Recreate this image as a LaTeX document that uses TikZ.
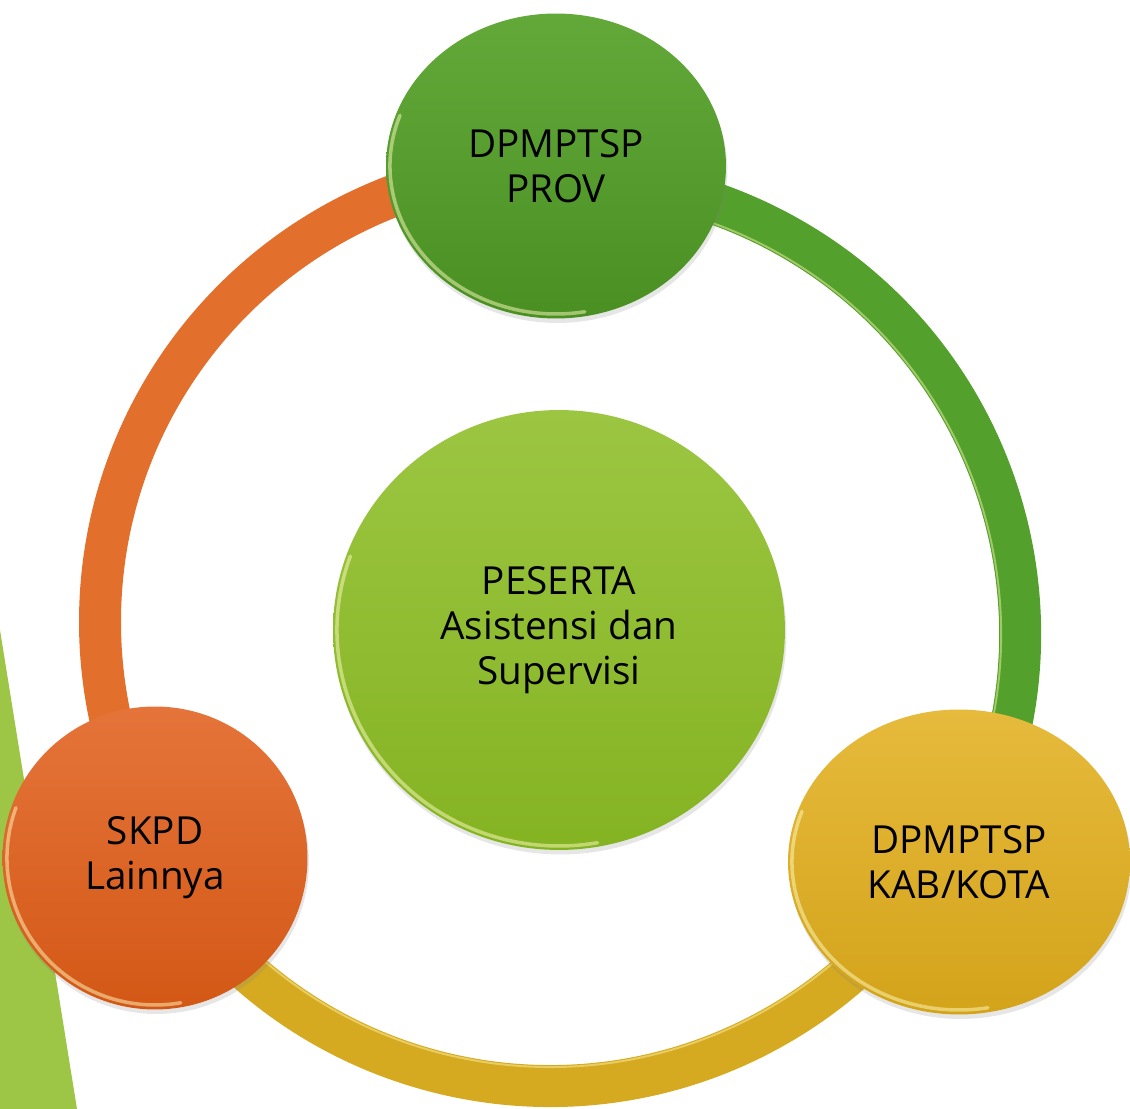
\documentclass[tikz,border=0pt]{standalone}
\usepackage{fontspec}
\setmainfont{Open Sans}
\usepackage{tikz}
\usetikzlibrary{shapes.geometric,shadows,backgrounds}
\definecolor{provtop}{HTML}{62A93A}
\definecolor{provbot}{HTML}{4A8F22}
\definecolor{hubtop}{HTML}{9CC642}
\definecolor{hubbot}{HTML}{84B322}
\definecolor{skpdtop}{HTML}{E5743A}
\definecolor{skpdbot}{HTML}{D35816}
\definecolor{kabtop}{HTML}{E6BA3C}
\definecolor{kabbot}{HTML}{D3A31A}
\definecolor{ringgreen}{HTML}{54A02C}
\definecolor{ringorange}{HTML}{E2702C}
\definecolor{ringgold}{HTML}{D6AA20}
\definecolor{leaf}{HTML}{9DC646}
\tikzset{
    disc/.style={ellipse, inner sep=0pt, text=black,
        drop shadow={opacity=0.2, shadow xshift=0.03cm, shadow yshift=-0.09cm}},
    hub/.style={disc, minimum width=9.04cm, minimum height=8.8cm, top color=hubtop, bottom color=hubbot},
    prov/.style={disc, minimum width=6.8cm, minimum height=6.1cm, top color=provtop, bottom color=provbot},
    skpd/.style={disc, minimum width=6.1cm, minimum height=6.06cm, top color=skpdtop, bottom color=skpdbot},
    kab/.style={disc, minimum width=6.84cm, minimum height=6.1cm, top color=kabtop, bottom color=kabbot},
    ring/.style={line width=0.84cm},
    shine/.style={draw=white!70!yellow, draw opacity=0.45, line width=1.1pt},
    rim/.style={draw=white!75!yellow, draw opacity=0.5, line width=2pt, line cap=round}
}

\begin{document}
\begin{tikzpicture}
  [
    x                       = 0.02cm,
    y                       = 0.02cm,
    every node/.style       = {font=\fontsize{22}{25.6}\selectfont, align=center},
  ]
  \useasboundingbox (0,0) rectangle (1130,1109);
  % side band
  \fill [leaf] (0,479) -- (77,0) -- (0,0) -- cycle;
  % circles
  \node [hub]  (peserta) at (559,479) {PESERTA\\Asistensi dan\\Supervisi};
  \node [prov] (prov)    at (556,943) {DPMPTSP\\PROV};
  \node [skpd] (skpd)    at (155,251) {SKPD\\Lainnya};
  \node [kab]  (kab)     at (959,247) {DPMPTSP\\KAB/KOTA};
  % highlights on the lower left edges
  \foreach \n/\rx/\ry in {peserta/222/216, prov/166/148, skpd/148/147, kab/167/148}
    \draw [rim] ([shift={(160:{\rx} and {\ry})}]\n.center) arc [start angle=160, end angle=280, x radius=\rx, y radius=\ry];
  % ring
  \begin{scope}[on background layer]
    \draw [ring, draw=ringorange] (prov.center) arc [start angle=90, end angle=210, radius=456];
    \draw [ring, draw=ringgold]   (skpd.center) arc [start angle=210, end angle=330, radius=456];
    \draw [ring, draw=ringgreen]  (kab.center)  arc [start angle=-30, end angle=90, radius=456];
    \draw [shine] ([shift={(210:-19)}]skpd.center) arc [start angle=210, end angle=330, radius=437];
    \draw [shine] ([shift={(-30:-19)}]kab.center)  arc [start angle=-30, end angle=90, radius=437];
  \end{scope}
\end{tikzpicture}
\end{document}
